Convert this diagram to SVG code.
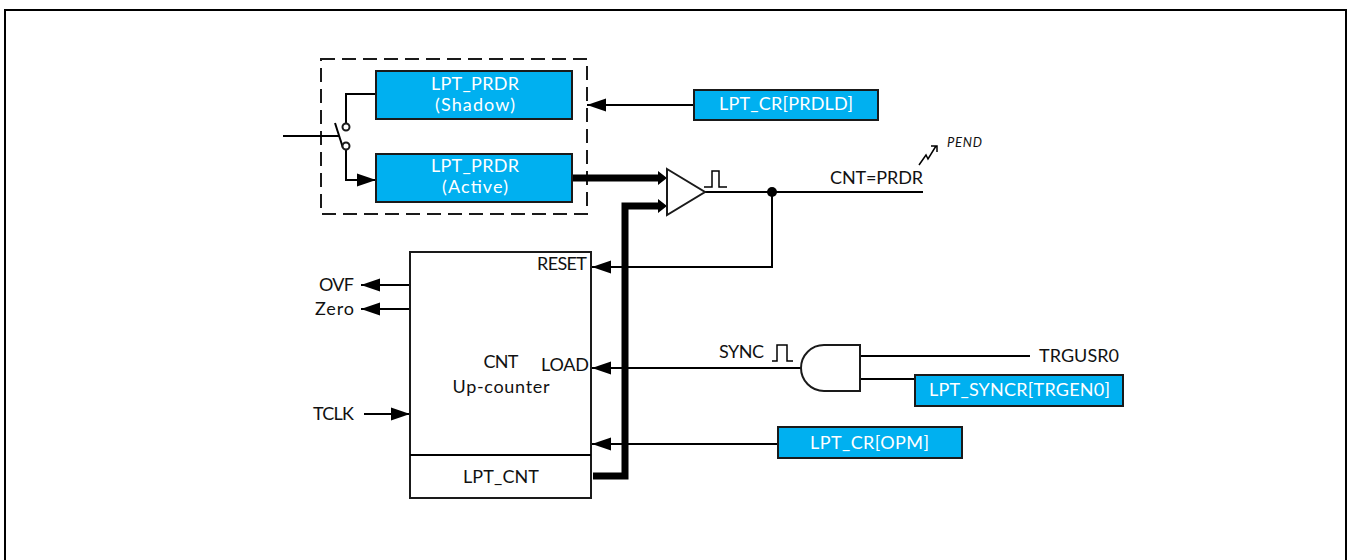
<svg xmlns="http://www.w3.org/2000/svg" width="1351" height="560" viewBox="0 0 1351 560">
<style>
text{font-family:Lato,"Liberation Sans",sans-serif;font-size:18px;fill:#111;text-anchor:middle;font-weight:400}
.w{fill:#fff}
.b{fill:#00b0f0;stroke:#1a1a1a;stroke-width:2}
.l{fill:none;stroke:#000;stroke-width:2}
.p{fill:none;stroke:#000;stroke-width:1.5}
.t{fill:none;stroke:#000;stroke-width:7}
.o{fill:#fff;stroke:#1a1a1a;stroke-width:2}
</style>
<defs>
<marker id="a" markerUnits="userSpaceOnUse" markerWidth="20" markerHeight="14" refX="19" refY="7" orient="auto"><path d="M0 0.5L19 7L0 13.5Z"/></marker>
</defs>
<rect id="frame" x="5" y="10" width="1341" height="560" fill="#fff" stroke="#000" stroke-width="2"/>
<rect id="dashed" x="321" y="59" width="266" height="155" fill="none" stroke="#1a1a1a" stroke-width="2" stroke-dasharray="14 7"/>
<g id="connectors">
<path class="l" d="M376 94H346V123"/>
<path class="l" d="M283 136H339"/>
<path class="l" d="M335 123L343 148"/>
<path class="l" d="M346 150V180H376" marker-end="url(#a)"/>
<path class="l" d="M693 105H587" marker-end="url(#a)"/>
<path class="t" d="M572 178H658"/>
<path class="t" d="M593 476H625V206H658"/>
<path d="M667 178l-9-7v14zM667 206l-9-7v14z"/>
<path class="l" d="M705 192H923"/>
<circle cx="772" cy="192" r="5"/>
<path class="l" d="M772 192V267H592" marker-end="url(#a)"/>
<path class="l" d="M410 285H361" marker-end="url(#a)"/>
<path class="l" d="M410 309H361" marker-end="url(#a)"/>
<path class="l" d="M364 414H410" marker-end="url(#a)"/>
<path class="l" d="M801 368H592" marker-end="url(#a)"/>
<path class="l" d="M777 444H592" marker-end="url(#a)"/>
<path class="l" d="M860 356H1030"/>
<path class="l" d="M860 379H915"/>
<path class="p" d="M704 187H712V171H719V187H727"/>
<path class="p" d="M772 361H777V345H787V361H793"/>
<path class="p" d="M919 165L926 155L928 159L936 146M931 146H937V152"/>
</g>
<g id="shadow"><rect class="b" x="376" y="71" width="196" height="48"/><text class="w" x="475" y="90" textLength="88">LPT_PRDR</text><text class="w" x="475" y="111" textLength="80">(Shadow)</text></g>
<g id="active"><rect class="b" x="376" y="154" width="196" height="48"/><text class="w" x="475" y="172" textLength="88">LPT_PRDR</text><text class="w" x="475" y="193" textLength="66">(Active)</text></g>
<g id="switch"><circle class="o" cx="346" cy="127" r="3.5"/><circle class="o" cx="346" cy="146" r="3.5"/></g>
<g id="prdld"><rect class="b" x="694" y="90" width="184" height="30"/><text class="w" x="786" y="110" textLength="134">LPT_CR[PRDLD]</text></g>
<g id="comparator"><path class="o" d="M667 169L705 192L667 215Z"/></g>
<g id="counter"><rect class="o" x="410" y="252" width="181" height="246"/><path class="l" d="M410 455H591"/>
<text x="501" y="368" textLength="35">CNT</text><text x="501" y="393" textLength="97">Up-counter</text><text x="501" y="483" textLength="76">LPT_CNT</text>
<text x="562" y="270" textLength="50">RESET</text><text x="565" y="371" textLength="48">LOAD</text></g>
<text x="336.500" y="291" textLength="35">OVF</text><text x="334.500" y="315" textLength="39">Zero</text><text x="333.500" y="420" textLength="41">TCLK</text>
<text x="741.500" y="358" textLength="45">SYNC</text>
<text x="876.500" y="184" textLength="93">CNT=PRDR</text>
<text x="964.500" y="147" textLength="35" style="font-size:13px;font-style:italic">PEND</text>
<text x="1079" y="362" textLength="80">TRGUSR0</text>
<g id="and"><path class="o" d="M860 345H824A23 23 0 0 0 824 391H860Z"/></g>
<g id="syncr"><rect class="b" x="915" y="375" width="208" height="31"/><text class="w" x="1019.500" y="396" textLength="181">LPT_SYNCR[TRGEN0]</text></g>
<g id="opm"><rect class="b" x="778" y="427" width="184" height="31"/><text class="w" x="869.500" y="449" textLength="119">LPT_CR[OPM]</text></g>
</svg>
